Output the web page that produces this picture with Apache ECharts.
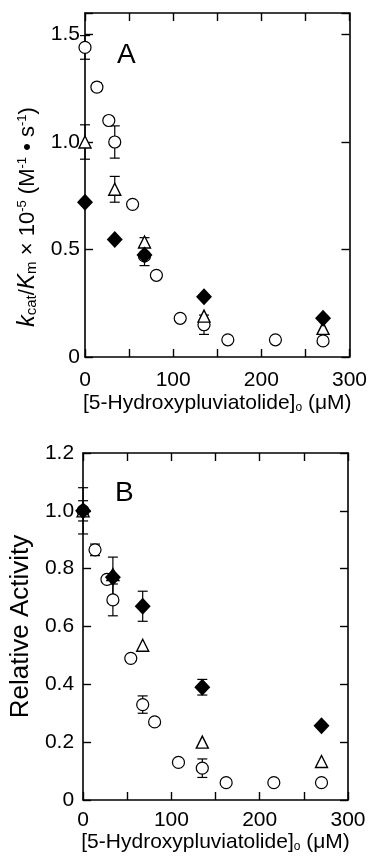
<!DOCTYPE html>
<html><head><meta charset="utf-8">
<script src="https://cdn.jsdelivr.net/npm/echarts@6/dist/echarts.min.js"></script>
<style>html,body{margin:0;padding:0;background:#fff}#c{width:370px;height:857px}</style>
</head><body><div id="c"></div>
<script>
// Concentrations of 5-hydroxypluviatolide (µM)
const conc = [0, 13.5, 27, 33.75, 54, 67.5, 81, 108, 135, 162, 216, 270];
const concSub = [0, 33.75, 67.5, 135, 270];
const xTicks = [0, 100, 200, 300];

// Panel A: kcat/Km x 10^-5
const aCircle = [1.44, 1.255, 1.10, 1.00, 0.71, 0.47, 0.38, 0.18, 0.15, 0.08, 0.08, 0.075];
const aCircleErr = [0.055, 0.02, 0, 0.075, 0, 0.045, 0, 0, 0.045, 0, 0, 0];
const aTriangle = [1.00, 0.78, 0.535, 0.19, 0.133];
const aTriangleErr = [0.08, 0.06, 0.02, 0, 0];
const aDiamond = [0.72, 0.547, 0.475, 0.28, 0.18];
const aDiamondErr = [0, 0, 0, 0, 0];

// Panel B: relative activity
const bCircle = [1.00, 0.865, 0.763, 0.692, 0.49, 0.33, 0.27, 0.13, 0.11, 0.06, 0.06, 0.06];
const bCircleErr = [0.08, 0.02, 0, 0.055, 0, 0.03, 0, 0, 0.032, 0, 0, 0];
const bTriangle = [1.00, 0.78, 0.535, 0.20, 0.133];
const bTriangleErr = [0, 0, 0, 0, 0];
const bDiamond = [1.00, 0.77, 0.67, 0.39, 0.257];
const bDiamondErr = [0.035, 0.07, 0.052, 0.027, 0];

const FONT = "'Liberation Sans', Arial, Helvetica, sans-serif";
const chart = echarts.init(document.getElementById('c'), null, {renderer: 'canvas'});

function pairs(xs, ys) { return xs.map((x, i) => [x, ys[i]]); }

function errSeries(xs, ys, es, xi, yi) {
  const data = [];
  xs.forEach((x, i) => { if (es[i] > 0) data.push([x, ys[i] - es[i], ys[i] + es[i]]); });
  return {
    type: 'custom', xAxisIndex: xi, yAxisIndex: yi, data: data, z: 1, clip: false, silent: true,
    encode: {x: 0, y: [1, 2]},
    renderItem: function (params, api) {
      const x = api.value(0);
      const lo = api.coord([x, api.value(1)]);
      const hi = api.coord([x, api.value(2)]);
      const w = 5;
      const st = {stroke: '#000', lineWidth: 1.2};
      return {type: 'group', children: [
        {type: 'line', shape: {x1: lo[0], y1: lo[1], x2: hi[0], y2: hi[1]}, style: st},
        {type: 'line', shape: {x1: lo[0] - w, y1: lo[1], x2: lo[0] + w, y2: lo[1]}, style: st},
        {type: 'line', shape: {x1: hi[0] - w, y1: hi[1], x2: hi[0] + w, y2: hi[1]}, style: st}
      ]};
    }
  };
}

function scat(xs, ys, xi, yi, kind) {
  const s = {type: 'scatter', xAxisIndex: xi, yAxisIndex: yi, data: pairs(xs, ys), clip: false, silent: true};
  if (kind === 'circle') {
    Object.assign(s, {symbol: 'circle', symbolSize: 12, z: 2,
      itemStyle: {color: '#fff', borderColor: '#000', borderWidth: 1.2, opacity: 1}});
  } else if (kind === 'triangle') {
    Object.assign(s, {symbol: 'triangle', symbolSize: [12, 12], z: 3,
      itemStyle: {color: '#fff', borderColor: '#000', borderWidth: 1.4, opacity: 1}});
  } else {
    Object.assign(s, {symbol: 'diamond', symbolSize: [16, 17], z: 4,
      itemStyle: {color: '#000', borderColor: '#000', borderWidth: 0, opacity: 1}});
  }
  return s;
}

const axisLine = {show: true, onZero: false, lineStyle: {color: '#000', width: 1.6}};
const tick = {show: true, inside: true, length: 8, lineStyle: {color: '#000', width: 1.4}};
const labelStyle = {color: '#000', fontFamily: FONT, fontSize: 21};

function xMain(gi, gap, nameGap) {
  return {type: 'value', gridIndex: gi, min: 0, max: 300, interval: 50, position: 'bottom',
    axisLine: axisLine, axisTick: tick, splitLine: {show: false},
    axisLabel: Object.assign({margin: gap, formatter: v => (xTicks.indexOf(v) >= 0 ? String(v) : '')}, labelStyle),
    name: '[5-Hydroxypluviatolide]{sub|o}{n| (μM)}', nameLocation: 'middle', nameGap: nameGap,
    nameTextStyle: {color: '#000', fontFamily: FONT, fontSize: 21,
      rich: {sub: {fontSize: 12, fontFamily: FONT, verticalAlign: 'bottom', color: '#000', padding: [8, 0, 0, 0]},
             n: {fontSize: 21, fontFamily: FONT, color: '#000'}}}
  };
}
function xTop(gi) {
  return {type: 'value', gridIndex: gi, min: 0, max: 300, interval: 50, position: 'top',
    axisLine: axisLine, axisTick: tick, splitLine: {show: false}, axisLabel: {show: false}};
}
function yFmt(maxShown) {
  return v => (v > maxShown + 1e-6 ? '' : (v === 0 ? '0' : v.toFixed(1)));
}

const option = {
  backgroundColor: '#fff',
  animation: false,
  grid: [
    {left: 85, top: 13, width: 265, height: 344},
    {left: 83, top: 453, width: 265, height: 347}
  ],
  xAxis: [xMain(0, 13, 36), xTop(0), xMain(1, 10, 30), xTop(1)],
  yAxis: [
    {type: 'value', gridIndex: 0, min: 0, max: 1.6, interval: 0.5, position: 'left',
      axisLine: axisLine, axisTick: tick, splitLine: {show: false}, showMaxLabel: false,
      axisLabel: Object.assign({margin: 5, formatter: yFmt(1.5)}, labelStyle),
      name: '{i|k}{sub|cat}{n|/}{i|K}{sub|m}{n| × 10}{sup|-5}{n| (M}{sup|-1}{n| • s}{sup|-1}{n|)}',
      nameLocation: 'middle', nameRotate: 90, nameGap: 46,
      nameTextStyle: {color: '#000', fontFamily: FONT, fontSize: 22, padding: [0, 64, 0, 0],
        rich: {
          i: {fontSize: 23, fontStyle: 'italic', fontFamily: FONT, color: '#000'},
          n: {fontSize: 22, fontFamily: FONT, color: '#000'},
          sub: {fontSize: 15, fontFamily: FONT, color: '#000', verticalAlign: 'bottom'},
          sup: {fontSize: 13, fontFamily: FONT, color: '#000', verticalAlign: 'top'}
        }}
    },
    {type: 'value', gridIndex: 0, min: 0, max: 1.6, interval: 0.5, position: 'right',
      axisLine: axisLine, axisTick: tick, splitLine: {show: false}, axisLabel: {show: false}},
    {type: 'value', gridIndex: 1, min: 0, max: 1.2, interval: 0.2, position: 'left',
      axisLine: axisLine, axisTick: tick, splitLine: {show: false},
      axisLabel: Object.assign({margin: 9, formatter: yFmt(1.2)}, labelStyle),
      name: 'Relative Activity', nameLocation: 'middle', nameRotate: 90, nameGap: 45,
      nameTextStyle: {color: '#000', fontFamily: FONT, fontSize: 26}
    },
    {type: 'value', gridIndex: 1, min: 0, max: 1.2, interval: 0.2, position: 'right',
      axisLine: axisLine, axisTick: tick, splitLine: {show: false}, axisLabel: {show: false}}
  ],
  graphic: [
    {type: 'text', left: 117, top: 41, style: {text: 'A', fontFamily: FONT, fontSize: 28, fill: '#000'}},
    {type: 'text', left: 115, top: 479, style: {text: 'B', fontFamily: FONT, fontSize: 28, fill: '#000'}}
  ],
  series: [
    errSeries(conc, aCircle, aCircleErr, 0, 0),
    errSeries(concSub, aTriangle, aTriangleErr, 0, 0),
    errSeries(concSub, aDiamond, aDiamondErr, 0, 0),
    scat(conc, aCircle, 0, 0, 'circle'),
    scat(concSub, aTriangle, 0, 0, 'triangle'),
    scat(concSub, aDiamond, 0, 0, 'diamond'),
    errSeries(conc, bCircle, bCircleErr, 2, 2),
    errSeries(concSub, bTriangle, bTriangleErr, 2, 2),
    errSeries(concSub, bDiamond, bDiamondErr, 2, 2),
    scat(conc, bCircle, 2, 2, 'circle'),
    scat(concSub, bTriangle, 2, 2, 'triangle'),
    scat(concSub, bDiamond, 2, 2, 'diamond')
  ]
};
chart.setOption(option);
</script>
</body></html>
